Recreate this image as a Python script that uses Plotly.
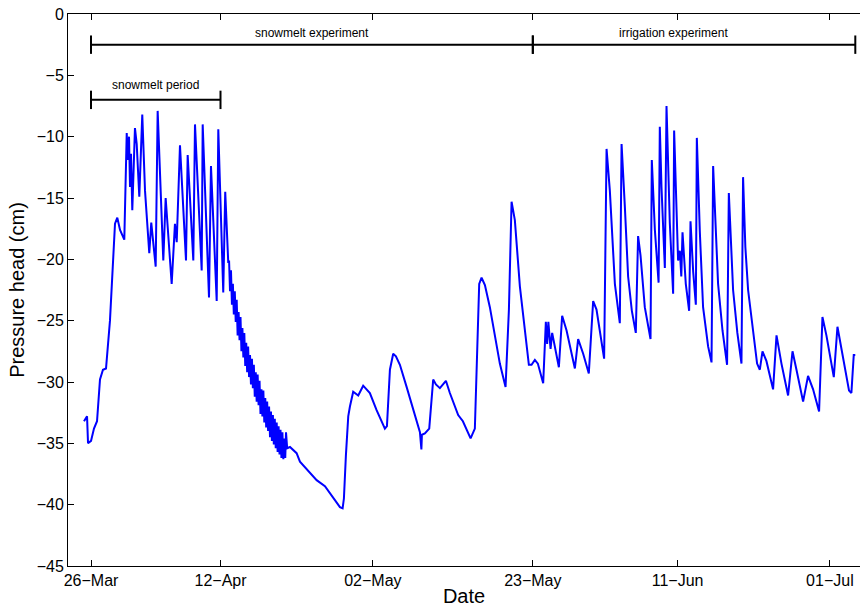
import pandas as pd
import plotly.graph_objects as go

START = pd.Timestamp("2010-03-26")

# days since 26-Mar (fractional) and pressure head (cm)
day_offset = [
    -0.92, -0.52, -0.39, 0.00, 0.39, 0.79, 1.18, 1.57, 1.97, 2.49, 3.15, 3.45, 3.81, 4.24, 4.37,
    4.69, 4.82, 4.99, 5.12, 5.25, 5.42, 5.77, 6.00, 6.34, 6.73, 7.09, 7.65, 7.91, 8.49, 8.75,
    9.49, 9.80, 10.59, 11.02, 11.25, 11.68, 12.47, 12.69, 13.43, 13.65, 14.53, 14.66, 15.49, 15.75,
    16.50, 16.71, 17.06, 17.23, 17.36, 17.62, 17.81, 18.02,
    18.125, 18.25, 18.375, 18.5, 18.625, 18.75, 18.875, 19.0, 19.125, 19.25, 19.375, 19.5,
    19.625, 19.75, 19.875, 20.0, 20.125, 20.25, 20.375, 20.5, 20.625, 20.75, 20.875, 21.0,
    21.125, 21.25, 21.375, 21.5, 21.625, 21.75, 21.875, 22.0, 22.125, 22.25, 22.375, 22.5,
    22.625, 22.75, 22.875, 23.0, 23.125, 23.25, 23.375, 23.5, 23.625, 23.75, 23.875, 24.0,
    24.125, 24.25, 24.375, 24.5, 24.625, 24.75, 24.875, 25.0, 25.125, 25.25, 25.375, 25.5,
    25.60, 25.75,
    26.12, 26.99, 27.43, 28.74, 29.62, 30.71, 31.80, 32.68, 33.03, 33.20, 33.46, 33.77, 33.99,
    34.42, 35.08, 35.73, 36.61, 37.49, 38.58, 38.85, 39.24, 39.67, 40.03, 40.55, 41.43, 42.52,
    43.18, 43.37, 43.44, 43.83, 44.40, 44.92, 45.28, 45.80, 46.59, 47.11, 48.20, 48.82, 49.83,
    50.39, 50.62, 50.96, 51.27, 51.71, 52.36, 52.80, 53.24, 53.67, 54.42, 54.86, 55.21, 55.64,
    56.30, 57.18, 57.48, 57.83, 58.27, 58.66, 59.36, 59.71, 59.88, 60.04, 60.33, 60.54, 61.42,
    61.85, 62.43, 63.52, 63.95, 64.61, 65.35, 65.92, 66.36, 67.36, 67.68, 68.11, 68.77, 69.42,
    69.65, 70.08, 70.51, 71.00, 71.52, 71.82, 72.14, 72.70, 73.45, 73.62, 74.02, 74.51, 74.67, 74.89,
    75.33, 75.55, 75.98, 76.42, 76.55, 77.07, 77.30, 77.49, 77.65, 78.08, 78.52, 78.70, 79.05,
    79.40, 79.53, 79.92, 80.35, 81.01, 81.46, 81.67, 82.00, 82.32, 82.90, 83.50, 83.73, 84.00,
    84.29, 84.85, 85.39, 85.60, 85.90,
    86.26, 86.92, 87.44, 87.80, 88.15, 88.67, 89.54, 89.99, 90.64, 91.51, 92.09, 92.61, 93.48,
    94.13, 94.79, 95.58, 96.02, 96.54, 97.51, 97.99, 98.52, 99.51, 99.82, 100.13, 100.33,
]
pressure = [
    -33.2, -32.8, -35.0, -34.8, -33.8, -33.2, -29.8, -29.0, -28.9, -25.0, -17.1, -16.6, -17.6, -18.3, -18.4,
    -9.7, -11.9, -10.0, -14.1, -11.4, -16.0, -9.3, -10.6, -14.9, -8.2, -14.4, -19.5, -17.0, -20.6, -7.9,
    -20.1, -15.0, -22.0, -17.1, -18.6, -10.7, -20.1, -11.5, -20.1, -9.0, -20.9, -9.0, -23.1, -12.4,
    -23.4, -9.4, -16.5, -19.8, -22.7, -14.5, -17.1, -20.3,
    -20.1, -22.6, -20.9, -23.7, -22.0, -24.5, -22.6, -25.1, -23.3, -26.2, -24.3, -26.6,
    -24.7, -27.5, -25.6, -28.0, -26.0, -28.7, -26.8, -29.2, -27.1, -29.6, -27.8, -30.2,
    -28.1, -30.5, -28.6, -31.2, -29.2, -31.6, -29.4, -31.9, -29.9, -32.6, -30.6, -32.8,
    -30.7, -33.3, -31.3, -33.7, -31.6, -34.0, -32.0, -34.5, -32.4, -34.8, -32.7, -35.1,
    -33.0, -35.4, -33.3, -35.7, -33.6, -35.9, -33.9, -36.2, -34.1, -36.3, -34.6, -36.2,
    -34.1, -35.4,
    -35.3, -35.8, -36.5, -37.4, -38.0, -38.5, -39.5, -40.2, -40.3, -39.5, -36.0, -32.8, -32.0,
    -30.8, -31.1, -30.3, -30.9, -32.3, -33.8, -33.6, -29.0, -27.7, -27.9, -28.6, -30.4, -32.6,
    -34.1, -35.5, -34.3, -34.2, -33.8, -29.8, -30.2, -30.5, -29.9, -30.9, -32.7, -33.2, -34.6,
    -33.8, -29.6, -22.0, -21.5, -22.1, -23.9, -25.5, -26.9, -28.5, -30.4, -24.1, -15.3, -16.8,
    -22.2, -27.1, -28.6, -28.6, -28.2, -28.5, -30.1, -25.1, -26.9, -25.1, -27.3, -26.0, -28.8,
    -24.6, -25.8, -28.9, -26.5, -27.7, -29.3, -23.4, -24.1, -28.1, -11.0, -14.4, -22.0, -25.2,
    -10.6, -15.7, -21.4, -24.2, -26.0, -18.1, -19.7, -23.9, -26.5, -11.9, -17.6, -21.9, -9.2, -14.1,
    -20.7, -7.5, -17.0, -22.8, -9.5, -20.1, -19.3, -21.4, -17.8, -22.0, -24.2, -16.9, -21.0,
    -23.7, -10.1, -17.7, -23.9, -27.1, -28.4, -12.4, -18.0, -22.0, -25.8, -28.6, -14.6, -19.0,
    -22.5, -26.0, -28.5, -13.3, -19.0,
    -22.5, -25.8, -28.5, -29.0, -27.5, -28.3, -30.6, -26.2, -28.5, -31.1, -27.5, -29.0, -31.6,
    -29.5, -30.6, -32.4, -24.7, -26.2, -29.6, -25.5, -27.3, -30.7, -30.9, -27.8, -27.8,
]

tick_dates = ["2010-03-26", "2010-04-12", "2010-05-02", "2010-05-23", "2010-06-11", "2010-07-01"]
tick_labels = ["26\u2212Mar", "12\u2212Apr", "02\u2212May", "23\u2212May", "11\u2212Jun", "01\u2212Jul"]
y_ticks = [0, -5, -10, -15, -20, -25, -30, -35, -40, -45]

# experiment periods: label, start, end, level (cm), label position
period_labels = ["snowmelt experiment", "irrigation experiment", "snowmelt period"]
period_start = ["2010-03-26 00:00", "2010-05-23 00:00", "2010-03-26 00:00"]
period_end = ["2010-05-23 00:00", "2010-07-04 08:00", "2010-04-12 00:00"]
period_level = [-2.5, -2.5, -7.0]
label_date = ["2010-04-24 00:00", "2010-06-10 10:00", "2010-04-03 12:00"]
label_level = [-1.55, -1.55, -5.75]

dates = START + pd.to_timedelta(day_offset, unit="D")

fig = go.Figure()
fig.add_trace(go.Scatter(x=dates, y=pressure, mode="lines",
                         line=dict(color="#0000ff", width=2), showlegend=False,
                         hoverinfo="skip"))

cap = 0.75
for lab, s, e, lev, ld, ll in zip(period_labels, period_start, period_end, period_level,
                                  label_date, label_level):
    s_t, e_t = pd.Timestamp(s), pd.Timestamp(e)
    fig.add_trace(go.Scatter(
        x=[s_t, e_t, None, s_t, s_t, None, e_t, e_t],
        y=[lev, lev, None, lev - cap, lev + cap, None, lev - cap, lev + cap],
        mode="lines", line=dict(color="black", width=2), showlegend=False, hoverinfo="skip"))
    fig.add_annotation(x=pd.Timestamp(ld), y=ll, text=lab, showarrow=False,
                       font=dict(size=12, color="black"))

x0 = START - pd.Timedelta(days=3.02)
x1 = START + pd.Timedelta(days=100.95)

fig.update_layout(
    width=860, height=608,
    margin=dict(l=68, r=0, t=14, b=42),
    paper_bgcolor="white", plot_bgcolor="white",
    font=dict(family="Liberation Sans, Arial, sans-serif", color="black"),
    xaxis=dict(range=[x0, x1], tickvals=pd.to_datetime(tick_dates), ticktext=tick_labels,
               ticks="inside", ticklen=6, tickcolor="black", tickwidth=1,
               showline=True, linecolor="black", linewidth=1, mirror="ticks",
               showgrid=False, zeroline=False, tickfont=dict(size=16),
               title=dict(text="Date", font=dict(size=20), standoff=0)),
    yaxis=dict(range=[-45, 0], tickvals=y_ticks,
               ticks="inside", ticklen=6, tickcolor="black", tickwidth=1,
               showline=True, linecolor="black", linewidth=1, mirror=False,
               showgrid=False, zeroline=False, tickfont=dict(size=16),
               title=dict(text="Pressure head (cm)", font=dict(size=20), standoff=6)),
)

fig.write_html("out.html", config={"displayModeBar": False},
               post_script="document.body.style.margin='0px';document.body.style.overflow='hidden';")
